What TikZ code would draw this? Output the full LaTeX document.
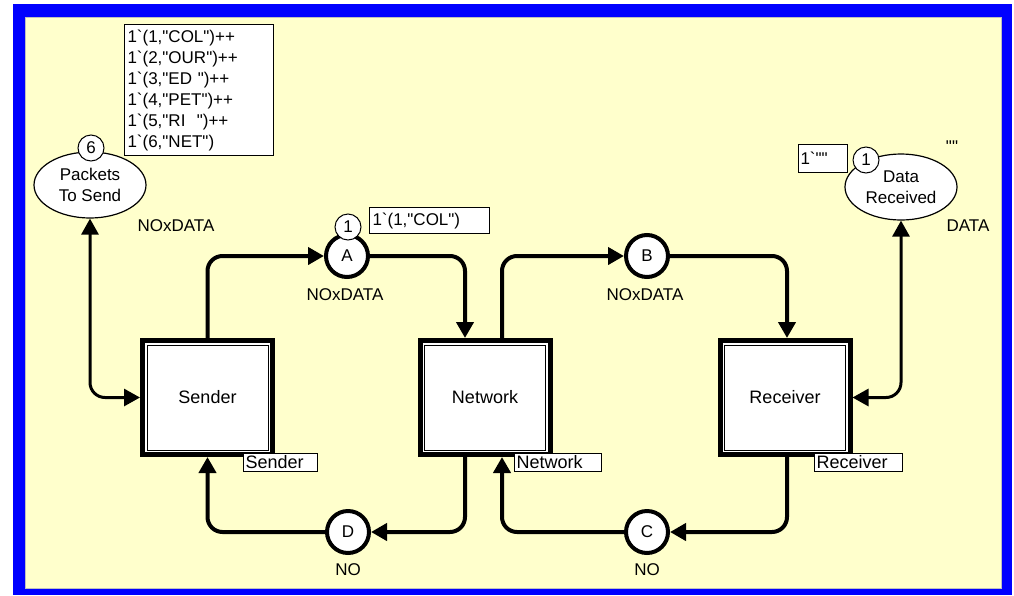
\documentclass[tikz,border=0pt]{standalone}
\usepackage{fontspec}
\setmainfont{Liberation Sans}[Ligatures=TeXOff]
\usetikzlibrary{arrows.meta,shapes.geometric}
\definecolor{frameblue}{RGB}{0,0,255}
\definecolor{paper}{RGB}{255,255,204}
\tikzset{ptr/.tip={Triangle[length=16pt,width=17pt]}}

\begin{document}
\begin{tikzpicture}[x=1pt,y=-1pt,
  every node/.style={font=\fontsize{17}{21}\selectfont, inner sep=0pt},
  big/.style={font=\fontsize{18}{21}\selectfont},
  place/.style={circle, draw, line width=4pt, fill=white, minimum size=42pt},
  token/.style={circle, draw, line width=1pt, fill=white, minimum size=26pt},
  bigplace/.style={ellipse, draw, line width=1.2pt, fill=white,
    minimum width=112pt, minimum height=66pt, align=center},
  trans/.style={rectangle, draw, line width=5pt, fill=white,
    minimum width=130pt, minimum height=114pt},
  transin/.style={rectangle, draw, line width=1pt, big,
    minimum width=121pt, minimum height=105pt},
  tbox/.style={rectangle, draw, line width=1pt, fill=white, anchor=north west},
  lbl/.style={tbox, big, minimum height=18pt, align=left, inner xsep=2pt},
  arc/.style={line width=4pt, rounded corners=15pt},
  thinarc/.style={line width=3pt, rounded corners=15pt}
]
\useasboundingbox (0,0) rectangle (1014,595);
\fill[white] (0,0) rectangle (1014,595);

% page frame
\fill[frameblue] (13,4) rectangle (1012,595);
\filldraw[fill=paper, draw=gray!50, line width=1pt] (25,17) rectangle (1001,588);

% places (tokens are drawn after their place so they sit on top)
\node[bigplace] (pts) at (90,185) {Packets\\To Send};
\node[token] (t6) at (91,148) {6};
\node[bigplace] (dr) at (901,187) {Data\\Received};
\node[token] (tdr) at (866,160) {1};

\node[place] (A) at (347,256) {A};
\node[token] (tA) at (348,227) {1};
\node[place] (B) at (647,256) {B};
\node[place] (C) at (647,532) {C};
\node[place] (D) at (348,532) {D};

% transitions
\node[trans] (snd) at (207.5,397.5) {};
\node[transin] (sndin) at (snd) {Sender};
\node[trans] (net) at (485,397.5) {};
\node[transin] (netin) at (net) {Network};
\node[trans] (rcv) at (785,397.5) {};
\node[transin] (rcvin) at (rcv) {Receiver};

\node[lbl, minimum width=74pt, text width=70pt] (sndl) at (243,453) {Sender};
\node[lbl, minimum width=87pt, text width=83pt] (netl) at (514,453) {Network};
\node[lbl, minimum width=88pt, text width=84pt] (rcvl) at (814,453) {Receiver};

% colour sets and markings
\node (ptsty) at (176,226) {NOxDATA};
\node (Aty) at (345,295) {NOxDATA};
\node (Bty) at (645,295) {NOxDATA};
\node (Cty) at (647,570) {NO};
\node (Dty) at (348,570) {NO};
\node (drty) at (968,226) {DATA};
\node (drinit) at (952,147) {""};

\node[tbox, minimum width=149pt, minimum height=131pt, text width=143pt,
      align=left] (ptsmark) at (124,24)
  {1`(1,"COL")++\\1`(2,"OUR")++\\1`(3,"ED ")++\\1`(4,"PET")++\\1`(5,"RI~~")++\\1`(6,"NET")};
\node[tbox, minimum width=120pt, minimum height=26pt, text width=114pt,
      align=left] (Amark) at (369,207) {1`(1,"COL")};
\node[tbox, minimum width=49pt, minimum height=28pt, text width=45pt,
      align=left] (drmark) at (798,144) {1`""};

% arcs
\draw[thinarc, ptr-ptr] (pts.south) |- (snd.west);
\draw[thinarc, ptr-ptr] (dr.south) |- (rcv.east);
\draw[arc, -ptr] (snd.north) |- (A.west);
\draw[arc, -ptr] (A.east) -| ([xshift=-20pt]net.north);
\draw[arc, -ptr] ([xshift=17pt]net.north) |- (B.west);
\draw[arc, -ptr] (B.east) -| ([xshift=2pt]rcv.north);
\draw[arc, -ptr] ([xshift=2pt]rcv.south) |- (C.east);
\draw[arc, -ptr] (C.west) -| ([xshift=17pt]net.south);
\draw[arc, -ptr] ([xshift=-20pt]net.south) |- (D.east);
\draw[arc, -ptr] (D.west) -| (snd.south);
\end{tikzpicture}
\end{document}
